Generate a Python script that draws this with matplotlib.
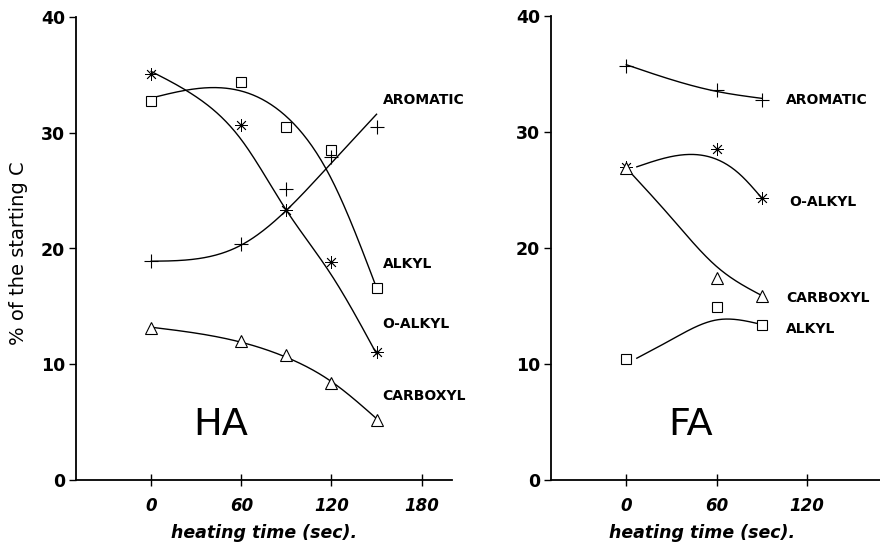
import numpy as np
import matplotlib
matplotlib.use("Agg")
import matplotlib.pyplot as plt

plt.rcParams['font.family'] = ['DejaVu Sans']

# HA: measured points
times_ha = [0, 60, 90, 120, 150]
ha_alkyl = [32.7, 34.4, 30.5, 28.5, 16.6]
ha_oalkyl = [35.1, 30.7, 23.3, 18.8, 11.1]
ha_aromatic = [18.9, 20.4, 25.1, 27.9, 30.5]
ha_carboxyl = [13.1, 12.0, 10.8, 8.4, 5.2]

# HA: fitted curves as drawn
ha_alkyl_fit_t = [0, 40, 90, 120, 150]
ha_alkyl_fit = [33.0, 33.9, 31.4, 26.0, 16.6]
ha_oalkyl_fit_t = [0, 30, 60, 90, 120, 150]
ha_oalkyl_fit = [35.3, 33.1, 29.4, 23.3, 17.7, 10.9]
ha_aromatic_fit_t = [0, 30, 60, 90, 120, 150]
ha_aromatic_fit = [18.9, 19.1, 20.3, 23.3, 27.4, 31.6]
ha_carboxyl_fit_t = [0, 60, 90, 120, 150]
ha_carboxyl_fit = [13.2, 11.9, 10.6, 8.5, 5.3]

# FA: measured points
times_fa = [0, 60, 90]
fa_aromatic = [35.7, 33.6, 32.8]
fa_oalkyl = [27.0, 28.5, 24.3]
fa_carboxyl = [26.9, 17.4, 15.9]
fa_alkyl = [10.4, 14.9, 13.4]

# FA: fitted curves as drawn
fa_aromatic_fit_t = [0, 60, 90]
fa_aromatic_fit = [35.8, 33.5, 32.9]
fa_oalkyl_fit_t = [7, 50, 75, 90]
fa_oalkyl_fit = [27.0, 28.0, 26.4, 24.3]
fa_carboxyl_fit_t = [0, 30, 60, 90]
fa_carboxyl_fit = [26.9, 22.6, 18.4, 15.9]
fa_alkyl_fit_t = [7, 30, 60, 75, 90]
fa_alkyl_fit = [10.5, 12.1, 13.8, 13.8, 13.4]


def smooth(xk, yk, n=200):
    # natural cubic spline through the curve readings
    xk = np.asarray(xk, float)
    yk = np.asarray(yk, float)
    k = len(xk)
    h = np.diff(xk)
    A = np.zeros((k, k))
    r = np.zeros(k)
    A[0, 0] = A[-1, -1] = 1
    for i in range(1, k - 1):
        A[i, i - 1] = h[i - 1]
        A[i, i] = 2 * (h[i - 1] + h[i])
        A[i, i + 1] = h[i]
        r[i] = 3 * ((yk[i + 1] - yk[i]) / h[i] - (yk[i] - yk[i - 1]) / h[i - 1])
    c = np.linalg.solve(A, r)
    b = (yk[1:] - yk[:-1]) / h - h * (2 * c[:-1] + c[1:]) / 3
    d = (c[1:] - c[:-1]) / (3 * h)
    xs = np.linspace(xk[0], xk[-1], n)
    idx = np.clip(np.searchsorted(xk, xs) - 1, 0, k - 2)
    dx = xs - xk[idx]
    ys = yk[idx] + b[idx] * dx + c[idx] * dx ** 2 + d[idx] * dx ** 3
    return xs, ys


star = (8, 2, 0)
styles = {
    'plus': dict(marker='+', ms=10, mew=0.8),
    'star': dict(marker=star, ms=9, mew=0.6),
    'square': dict(marker='s', ms=6.5, mew=0.8, mfc='white'),
    'tri': dict(marker='^', ms=8, mew=0.8, mfc='white'),
}


def draw(ax, t, y, ft, fy, kind):
    xs, ys = smooth(ft, fy)
    ax.plot(xs, ys, color='black', lw=1.0, zorder=2)
    ax.plot(t, y, ls='none', color='black', mec='black', zorder=3, **styles[kind])


def setup(ax, xlim, xticks):
    ax.set_xlim(*xlim)
    ax.set_ylim(0, 40)
    for s in ['top', 'right']:
        ax.spines[s].set_visible(False)
    ax.spines['left'].set_linewidth(1.3)
    ax.spines['bottom'].set_linewidth(1.3)
    ax.set_yticks([0, 10, 20, 30, 40])
    ax.set_xticks(xticks)
    ax.tick_params(axis='y', direction='out', length=5, width=1.0, labelsize=12.5, pad=3)
    ax.tick_params(axis='x', direction='inout', length=9, width=1.0, labelsize=12, pad=8)
    for lb in ax.get_yticklabels():
        lb.set_fontweight('bold')
    for lb in ax.get_xticklabels():
        lb.set_fontweight('bold')
        lb.set_fontstyle('italic')
    ax.set_xlabel('heating time (sec).', fontsize=12.5, fontweight='bold', fontstyle='italic')
    ax.patch.set_visible(False)


fig = plt.figure(figsize=(8.8, 5.44), dpi=100)
ax1 = fig.add_axes([76 / 880, 64 / 544, (451.7 - 76) / 880, 463 / 544])
ax2 = fig.add_axes([551 / 880, 64 / 544, (882.3 - 551) / 880, 464 / 544])

# HA panel
draw(ax1, times_ha, ha_alkyl, ha_alkyl_fit_t, ha_alkyl_fit, 'square')
draw(ax1, times_ha, ha_oalkyl, ha_oalkyl_fit_t, ha_oalkyl_fit, 'star')
draw(ax1, times_ha, ha_aromatic, ha_aromatic_fit_t, ha_aromatic_fit, 'plus')
draw(ax1, times_ha, ha_carboxyl, ha_carboxyl_fit_t, ha_carboxyl_fit, 'tri')
setup(ax1, (-50, 200), [0, 60, 120, 180])
ax1.xaxis.set_label_coords(0.5, -0.095)
lab = dict(fontsize=10, fontweight='bold', va='center', ha='left')
ax1.text(154, 32.8, 'AROMATIC', **lab)
ax1.text(154, 18.7, 'ALKYL', **lab)
ax1.text(154, 13.5, 'O-ALKYL', **lab)
ax1.text(154, 7.25, 'CARBOXYL', **lab)
ax1.text(46, 4.75, 'HA', fontsize=27.5, ha='center', va='center')

# FA panel
draw(ax2, times_fa, fa_aromatic, fa_aromatic_fit_t, fa_aromatic_fit, 'plus')
draw(ax2, times_fa, fa_oalkyl, fa_oalkyl_fit_t, fa_oalkyl_fit, 'star')
draw(ax2, times_fa, fa_carboxyl, fa_carboxyl_fit_t, fa_carboxyl_fit, 'tri')
draw(ax2, times_fa, fa_alkyl, fa_alkyl_fit_t, fa_alkyl_fit, 'square')
setup(ax2, (-50, 170), [0, 60, 120])
ax2.xaxis.set_label_coords((701.7 - 551) / (882.3 - 551), -0.095)
ax2.text(106, 32.8, 'AROMATIC', **lab)
ax2.text(108, 24.0, 'O-ALKYL', **lab)
ax2.text(106, 15.7, 'CARBOXYL', **lab)
ax2.text(106, 13.0, 'ALKYL', **lab)
ax2.text(43, 4.7, 'FA', fontsize=27.5, ha='center', va='center')

fig.text(19 / 880, 1 - 253 / 544, '% of the starting C', rotation=90,
         fontsize=14, ha='center', va='center')

fig.savefig('out.png', dpi=100)
